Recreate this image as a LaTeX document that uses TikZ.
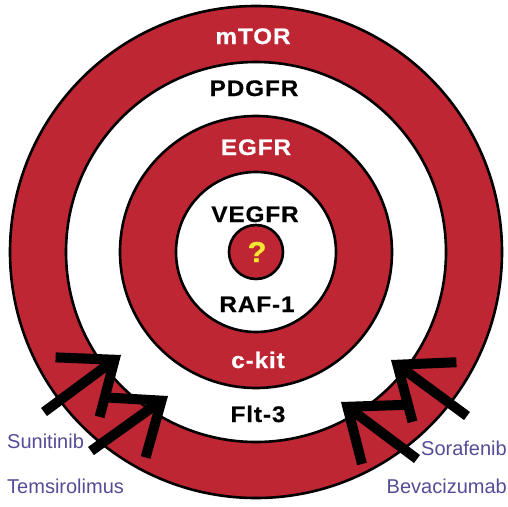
\documentclass[tikz,border=0pt]{standalone}
\usepackage{fontspec}
\setmainfont{Liberation Sans}
\newfontfamily\ringfont{Liberation Sans}[LetterSpace=4, FakeStretch=1.08, FakeBold=0.6]
\usetikzlibrary{arrows.meta}
\definecolor{targetred}{RGB}{190,38,52}
\definecolor{drugblue}{RGB}{84,76,150}
\definecolor{qyellow}{RGB}{245,230,50}

\begin{document}
\begin{tikzpicture}[x=1pt, y=-1pt]
  \tikzstyle{ring} = [draw=black, line width=2.6pt]
  \tikzstyle{red ring} = [ring, fill=targetred]
  \tikzstyle{white ring} = [ring, fill=white]
  \tikzstyle{target} = [font=\ringfont\bfseries\fontsize{22.5}{26}\selectfont, anchor=base, inner sep=0pt]
  \tikzstyle{drug} = [font=\fontsize{20}{22}\selectfont, text=drugblue, inner sep=0pt]
  \tikzstyle{hit} = [line width=10pt, -{Straight Barb[length=46pt, width=74pt, sharp]}]
  \useasboundingbox (0,0) rectangle (508,506);

  % the target
  \coordinate (c) at (256,252);
  \draw[red ring] (c) circle (246pt);
  \draw[white ring] (c) circle (190pt);
  \draw[red ring] (c) circle (136pt);
  \draw[white ring] (c) circle (80pt);
  \draw[red ring] (c) circle (27pt);

  % drug arrows
  \coordinate (sun tail) at (44,412);
  \coordinate (sun tip) at (121,355);
  \coordinate (tem tail) at (91,451);
  \coordinate (tem tip) at (168,396);
  \coordinate (sor tail) at (467,416);
  \coordinate (sor tip) at (391,360);
  \coordinate (bev tail) at (417,459);
  \coordinate (bev tip) at (341,402);
  \draw[hit] (sun tail) -- (sun tip);
  \draw[hit] (tem tail) -- (tem tip);
  \draw[hit] (sor tail) -- (sor tip);
  \draw[hit] (bev tail) -- (bev tip);

  % targets
  \node[target, text=white] (mtor) at (253,44) {mTOR};
  \node[target] (pdgfr) at (254,96) {PDGFR};
  \node[target, text=white] (egfr) at (256,155) {EGFR};
  \node[target] (vegfr) at (255,222) {VEGFR};
  \node[font=\ringfont\bfseries\fontsize{29}{30}\selectfont, text=qyellow, inner sep=0pt] (unknown) at (257,252) {?};
  \node[target] (raf) at (257,312) {RAF-1};
  \node[target, text=white] (ckit) at (258,368) {c-kit};
  \node[target] (flt) at (258,422) {Flt-3};

  % drugs
  \node[drug, anchor=base west] (sunitinib) at (7,448) {Sunitinib};
  \node[drug, anchor=base west] (temsirolimus) at (7,493) {Temsirolimus};
  \node[drug, anchor=base east] (sorafenib) at (507,455) {Sorafenib};
  \node[drug, anchor=base east] (bevacizumab) at (507,493) {Bevacizumab};
\end{tikzpicture}
\end{document}
